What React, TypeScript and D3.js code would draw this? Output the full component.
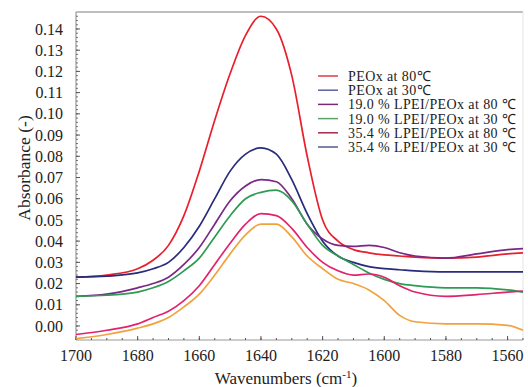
import React from 'react';
import * as d3 from 'd3';

// wavenumber grid (cm-1) the curves were read at
const wavenumbers = [1700, 1690, 1680, 1675, 1670, 1665, 1660, 1655, 1650, 1645, 1640, 1635, 1630, 1625, 1620, 1615, 1610, 1605, 1600, 1595, 1590, 1580, 1570, 1560, 1555];

const peox80 = [0.023, 0.024, 0.027, 0.031, 0.038, 0.052, 0.073, 0.097, 0.119, 0.137, 0.146, 0.140, 0.118, 0.080, 0.050, 0.040, 0.036, 0.0345, 0.0335, 0.033, 0.0325, 0.032, 0.0325, 0.034, 0.0345];
const peox30 = [0.023, 0.0235, 0.025, 0.027, 0.030, 0.037, 0.047, 0.060, 0.073, 0.081, 0.084, 0.081, 0.069, 0.053, 0.040, 0.033, 0.030, 0.028, 0.027, 0.0265, 0.026, 0.0255, 0.0255, 0.0255, 0.0255];
const lpei19at80 = [0.014, 0.015, 0.018, 0.020, 0.023, 0.029, 0.037, 0.048, 0.059, 0.066, 0.069, 0.068, 0.060, 0.048, 0.041, 0.038, 0.0375, 0.038, 0.037, 0.0345, 0.033, 0.032, 0.034, 0.036, 0.0365];
const lpei19at30 = [0.014, 0.0145, 0.016, 0.018, 0.021, 0.026, 0.032, 0.042, 0.052, 0.060, 0.063, 0.064, 0.059, 0.048, 0.038, 0.033, 0.029, 0.025, 0.022, 0.020, 0.019, 0.018, 0.018, 0.017, 0.016];
const lpei35at80 = [-0.004, -0.002, 0.001, 0.004, 0.007, 0.012, 0.019, 0.029, 0.039, 0.048, 0.053, 0.052, 0.046, 0.037, 0.030, 0.026, 0.024, 0.0245, 0.023, 0.019, 0.016, 0.014, 0.0148, 0.016, 0.0165];
const lpei35at30 = [-0.006, -0.004, -0.001, 0.001, 0.004, 0.009, 0.015, 0.024, 0.034, 0.043, 0.048, 0.048, 0.042, 0.033, 0.027, 0.022, 0.020, 0.017, 0.012, 0.005, 0.002, 0.001, 0.001, 0.0003, -0.002];

const seriesNames = ['PEOx at 80℃', 'PEOx at 30℃', '19.0 % LPEI/PEOx at 80 ℃', '19.0 % LPEI/PEOx at 30 ℃', '35.4 % LPEI/PEOx at 80 ℃', '35.4 % LPEI/PEOx at 30 ℃'];
const seriesValues = [peox80, peox30, lpei19at80, lpei19at30, lpei35at80, lpei35at30];
const curveColors = ['#e8202c', '#282c7a', '#7a2886', '#2f9a52', '#e2226c', '#f2a23c'];
const legendColors = ['#e03a44', '#5c5fa2', '#7a2a70', '#5ba36c', '#a8284c', '#555b8a'];

const xTicks = [1700, 1680, 1660, 1640, 1620, 1600, 1580, 1560];
const yTicks = d3.range(0, 15).map(i => i / 100);

const font = '"Liberation Serif", "Times New Roman", serif';

const App = () => {
    const x = d3.scaleLinear().domain([1700, 1555]).range([76, 523]);
    const y = d3.scaleLinear().domain([-0.0066, 0.148]).range([340, 12]);

    const line = d3.line<[number, number]>()
        .x(d => x(d[0]))
        .y(d => y(d[1]))
        .curve(d3.curveMonotoneX);

    const xMinor = d3.range(1700, 1554, -5);
    const yMinor = d3.range(-6, 148, 2).map(v => v / 1000);

    return (
        <svg width={528} height={387} style={{ position: 'absolute', left: 0, top: 0, background: '#fff' }}
            fontFamily={font}>
            <defs>
                <clipPath id="plot">
                    <rect x={76} y={12} width={447} height={328} />
                </clipPath>
            </defs>

            {/* frame */}
            <line x1={76} x2={523} y1={12} y2={12} stroke="#a8a8a8" strokeWidth={1.5} />
            <line x1={523} x2={523} y1={12} y2={340} stroke="#e4e4e4" strokeWidth={1} />
            <line x1={76} x2={76} y1={12} y2={340} stroke="#9a9a9a" strokeWidth={1.2} />
            <line x1={76} x2={523} y1={340} y2={340} stroke="#9a9a9a" strokeWidth={1.2} />

            {/* y ticks */}
            {yMinor.map((v, i) => (
                <line key={'ym' + i} x1={76} x2={78} y1={y(v)} y2={y(v)} stroke="#555" strokeWidth={0.8} />
            ))}
            {yTicks.map(v => (
                <g key={'y' + v}>
                    <line x1={76} x2={80} y1={y(v)} y2={y(v)} stroke="#555" strokeWidth={1} />
                    <text x={63} y={y(v)} dy="0.35em" textAnchor="end" fontSize={16} fill="#222">{v.toFixed(2)}</text>
                </g>
            ))}

            {/* x ticks */}
            {xMinor.map(v => (
                <line key={'xm' + v} x1={x(v)} x2={x(v)} y1={340} y2={338} stroke="#555" strokeWidth={1} />
            ))}
            {xTicks.map(v => (
                <g key={'x' + v}>
                    <line x1={x(v)} x2={x(v)} y1={340} y2={336} stroke="#555" strokeWidth={1} />
                    <text x={x(v)} y={361} textAnchor="middle" fontSize={16} fill="#222">{v}</text>
                </g>
            ))}

            {/* axis titles */}
            <text x={286} y={384} textAnchor="middle" fontSize={17} fill="#222">
                Wavenumbers (cm<tspan dy={-6} fontSize={11}>-1</tspan><tspan dy={6}>)</tspan>
            </text>
            <text transform="translate(24,168) rotate(-90)" textAnchor="middle" dy="0.35em" fontSize={17.5} fill="#222">Absorbance (-)</text>

            {/* curves */}
            <g clipPath="url(#plot)">
                {seriesValues.map((vals, i) => (
                    <path key={i}
                        d={line(wavenumbers.map((w, j) => [w, vals[j]] as [number, number])) || ''}
                        fill="none" stroke={curveColors[i]} strokeWidth={1.7} />
                ))}
            </g>

            {/* legend */}
            {seriesNames.map((name, i) => {
                const ly = 76 + i * 14.2;
                return (
                    <g key={name}>
                        <line x1={318} x2={338} y1={ly} y2={ly} stroke={legendColors[i]} strokeWidth={1.5} />
                        <text x={348} y={ly} dy="0.35em" fontSize={14} letterSpacing={0.4} fill="#222">{name}</text>
                    </g>
                );
            })}
        </svg>
    );
};

export default App;
